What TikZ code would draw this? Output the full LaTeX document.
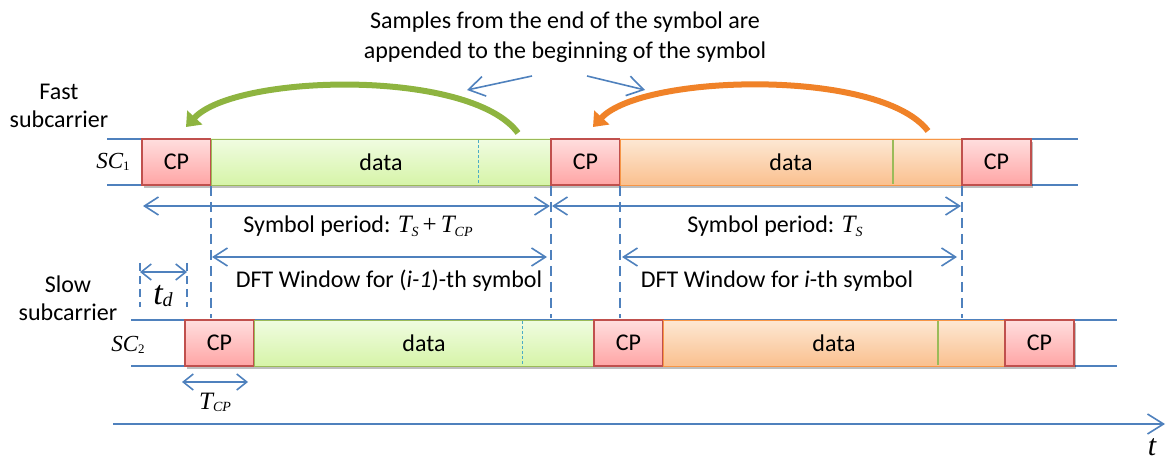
\documentclass[tikz,border=0pt]{standalone}
\usepackage{fontspec}
\setmainfont{Carlito}
\newfontfamily\tnr{Liberation Serif}
\usetikzlibrary{arrows.meta,shadows}
\definecolor{lblue}{RGB}{79,129,189}
\definecolor{cpborder}{RGB}{192,80,77}
\definecolor{cptop}{RGB}{255,222,222}
\definecolor{cpbot}{RGB}{255,165,165}
\definecolor{grtop}{RGB}{240,252,225}
\definecolor{grbot}{RGB}{214,244,168}
\definecolor{grborder}{RGB}{155,187,89}
\definecolor{ortop}{RGB}{253,232,212}
\definecolor{orbot}{RGB}{250,192,143}
\definecolor{orborder}{RGB}{247,150,70}
\definecolor{garrow}{RGB}{142,180,64}
\definecolor{oarrow}{RGB}{240,130,40}
\definecolor{cyanl}{RGB}{75,172,198}
\newcommand\tv[2]{{\tnr\itshape\fontsize{25}{26}\selectfont #1}\raisebox{-0.35ex}{\tnr\itshape\fontsize{14}{14}\selectfont #2}}
\tikzset{
  box/.style={draw, line width=1.2pt, minimum height=46pt, inner sep=0pt,
    font=\fontsize{24}{28}\selectfont,
    drop shadow={shadow xshift=2pt, shadow yshift=-3pt, opacity=0.25, fill=black}},
  cpbox/.style={box, draw=cpborder, top color=cptop, bottom color=cpbot, minimum width=69pt},
  grbox/.style={box, draw=grborder, line width=0.8pt, top color=grtop, bottom color=grbot, minimum width=340pt},
  orbox/.style={box, draw=orborder, line width=0.8pt, top color=ortop, bottom color=orbot, minimum width=342pt},
  rail/.style={draw=lblue, line width=1.4pt},
  dim/.style={draw=lblue, line width=1.6pt, {Straight Barb[length=14pt,width=18pt]}-{Straight Barb[length=14pt,width=18pt]}},
  pointer/.style={draw=lblue, line width=1.6pt, -{Straight Barb[length=16pt,width=20pt]}},
  guide/.style={draw=lblue, line width=1.3pt, dash pattern=on 10pt off 6pt},
  lbl/.style={inner sep=0pt, font=\fontsize{24}{28}\selectfont},
}
\begin{document}
\begin{tikzpicture}[x=1pt,y=-1pt]
\useasboundingbox (0,0) rectangle (1167,462);
% rails
\coordinate (r1a) at (107,139); \coordinate (r1b) at (1078,139);
\coordinate (r1c) at (107,185); \coordinate (r1d) at (1078,185);
\coordinate (r2a) at (131,320); \coordinate (r2b) at (1117,320);
\coordinate (r2c) at (131,366); \coordinate (r2d) at (1117,366);
\draw[rail] (r1a) -- (r1b); \draw[rail] (r1c) -- (r1d);
\draw[rail] (r2a) -- (r2b); \draw[rail] (r2c) -- (r2d);
% row 1
\node[cpbox] (a1) at (176.5,162) {CP};
\node[grbox] (d1) at (381,162) {data};
\node[cpbox] (a2) at (585.5,162) {CP};
\node[orbox] (e1) at (791,162) {data};
\node[cpbox] (a3) at (996.5,162) {CP};
\coordinate (m1t) at (478,140); \coordinate (m1b) at (478,184);
\draw[cyanl, line width=1pt, dash pattern=on 3pt off 2pt] (m1t) -- (m1b);
\coordinate (n1t) at (893,140); \coordinate (n1b) at (893,184);
\draw[grborder, line width=1.2pt] (n1t) -- (n1b);
% row 2
\node[cpbox] (b1) at (219.5,343) {CP};
\node[grbox] (d2) at (424,343) {data};
\node[cpbox] (b2) at (628.5,343) {CP};
\node[orbox] (e2) at (834,343) {data};
\node[cpbox] (b3) at (1039.5,343) {CP};
\coordinate (m2t) at (522,321); \coordinate (m2b) at (522,365);
\draw[cyanl, line width=1pt, dash pattern=on 3pt off 2pt] (m2t) -- (m2b);
\coordinate (n2t) at (938,321); \coordinate (n2b) at (938,365);
\draw[grborder, line width=1.2pt] (n2t) -- (n2b);
% guides
\coordinate (g1t) at (211,186); \coordinate (g1b) at (211,318);
\coordinate (g2t) at (551,186); \coordinate (g2b) at (551,318);
\coordinate (g3t) at (620,186); \coordinate (g3b) at (620,318);
\coordinate (g4t) at (962,186); \coordinate (g4b) at (962,318);
\draw[guide] (g1t) -- (g1b); \draw[guide] (g2t) -- (g2b);
\draw[guide] (g3t) -- (g3b); \draw[guide] (g4t) -- (g4b);
% dimension arrows
\coordinate (s1a) at (143,206); \coordinate (s1b) at (550,206);
\coordinate (s2a) at (552,206); \coordinate (s2b) at (961,206);
\draw[dim] (s1a) -- (s1b); \draw[dim] (s2a) -- (s2b);
\node[lbl] (sp1) at (358,226) {Symbol period: \tv{T}{S}\,{\tnr\fontsize{25}{26}\selectfont +}\,\tv{T}{CP}};
\node[lbl] (sp2) at (775,226) {Symbol period: \tv{T}{S}};
\coordinate (w1a) at (212,257); \coordinate (w1b) at (547,257);
\coordinate (w2a) at (622,257); \coordinate (w2b) at (957,257);
\draw[dim] (w1a) -- (w1b); \draw[dim] (w2a) -- (w2b);
\node[lbl] (dw1) at (389,281) {DFT Window for (\textit{i-1})-th symbol};
\node[lbl] (dw2) at (777,281) {DFT Window for \textit{i}-th symbol};
% t_d
\coordinate (td1t) at (140,263); \coordinate (td1b) at (140,307);
\coordinate (td2t) at (187,263); \coordinate (td2b) at (187,307);
\draw[guide, dash pattern=on 8pt off 5pt] (td1t) -- (td1b);
\draw[guide, dash pattern=on 8pt off 5pt] (td2t) -- (td2b);
\coordinate (tda) at (140,272); \coordinate (tdb) at (187,272);
\draw[dim, {Straight Barb[length=10pt,width=16pt]}-{Straight Barb[length=10pt,width=16pt]}] (tda) -- (tdb);
\node[inner sep=0pt] (tdl) at (163,296) {{\tnr\itshape\fontsize{34}{34}\selectfont t}\raisebox{-0.5ex}{\tnr\itshape\fontsize{20}{20}\selectfont d}};
% T_CP
\coordinate (tca) at (182,382); \coordinate (tcb) at (248,382);
\draw[dim, {Straight Barb[length=10pt,width=16pt]}-{Straight Barb[length=10pt,width=16pt]}] (tca) -- (tcb);
\node[inner sep=0pt] (tcl) at (215,402) {{\tnr\itshape\fontsize{25}{26}\selectfont T}\raisebox{-0.4ex}{\tnr\itshape\fontsize{14}{14}\selectfont CP}};
% time axis
\coordinate (ta) at (113,424); \coordinate (tb) at (1165,424);
\draw[pointer] (ta) -- (tb);
\node[inner sep=0pt] (tl) at (1152,447) {\tnr\itshape\fontsize{30}{30}\selectfont t};
% labels
\node[lbl, align=center, font=\fontsize{24}{28}\selectfont] (fast) at (59,106) {Fast\\subcarrier};
\node[lbl, align=center, font=\fontsize{24}{28}\selectfont] (slow) at (68,298) {Slow\\subcarrier};
\node[inner sep=0pt] (sc1) at (113,162) {{\tnr\itshape\fontsize{23}{24}\selectfont SC}\raisebox{-0.4ex}{\tnr\fontsize{13}{13}\selectfont 1}};
\node[inner sep=0pt] (sc2) at (128,345) {{\tnr\itshape\fontsize{23}{24}\selectfont SC}\raisebox{-0.4ex}{\tnr\fontsize{13}{13}\selectfont 2}};
\node[lbl, align=center, font=\fontsize{24}{30}\selectfont] (note) at (565,37) {Samples from the end of the symbol are\\appended to the beginning of the symbol};
\coordinate (p1a) at (532,76); \coordinate (p1b) at (467,90);
\coordinate (p2a) at (587,76); \coordinate (p2b) at (645,90);
\draw[pointer] (p1a) -- (p1b); \draw[pointer] (p2a) -- (p2b);
% curved arrows
\coordinate (ga) at (518,133); \coordinate (gb) at (186,127);
\coordinate (oa) at (928,131); \coordinate (ob) at (593,127);
\draw[garrow, line width=6pt, -{Triangle[length=13pt,width=20pt]}] (ga) .. controls (470,68) and (235,74) .. (gb);
\draw[oarrow, line width=6pt, -{Triangle[length=13pt,width=20pt]}] (oa) .. controls (880,68) and (642,74) .. (ob);
\end{tikzpicture}
\end{document}
